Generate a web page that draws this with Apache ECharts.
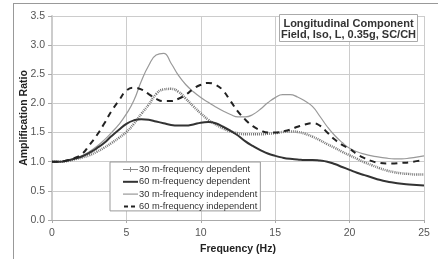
<!DOCTYPE html>
<html><head><meta charset="utf-8">
<script src="https://cdn.jsdelivr.net/npm/echarts@6/dist/echarts.min.js"></script>
<style>html,body{margin:0;padding:0;background:#fff}#c{width:438px;height:259px}</style>
</head><body><div id="c"></div>
<script>
const freq = [0,0.5,1,1.5,2,2.5,3,3.5,4,4.5,5,5.5,6,6.5,7,7.5,8,8.5,9,9.5,10,10.5,11,11.5,12,12.5,13,13.5,14,14.5,15,15.5,16,16.5,17,17.5,18,18.5,19,19.5,20,20.5,21,21.5,22,22.5,23,23.5,24,24.5,25];
const fd30 = [1.00,1.00,1.01,1.04,1.07,1.11,1.17,1.24,1.32,1.41,1.51,1.65,1.82,1.98,2.16,2.24,2.25,2.20,2.08,1.95,1.83,1.72,1.64,1.57,1.52,1.49,1.47,1.47,1.47,1.48,1.49,1.51,1.52,1.51,1.48,1.43,1.37,1.30,1.24,1.17,1.11,1.05,0.99,0.94,0.89,0.85,0.82,0.80,0.79,0.78,0.78];
const fd60 = [1.00,1.00,1.02,1.05,1.09,1.15,1.23,1.32,1.44,1.55,1.65,1.71,1.73,1.72,1.69,1.66,1.63,1.62,1.62,1.64,1.67,1.68,1.66,1.60,1.53,1.45,1.35,1.27,1.20,1.14,1.10,1.07,1.05,1.04,1.03,1.03,1.02,1.00,0.96,0.91,0.86,0.81,0.77,0.73,0.69,0.66,0.64,0.62,0.61,0.60,0.59];
const fi30 = [1.00,1.00,1.02,1.05,1.10,1.17,1.26,1.37,1.50,1.64,1.82,2.05,2.38,2.65,2.83,2.86,2.69,2.48,2.32,2.20,2.10,2.02,1.94,1.87,1.81,1.77,1.77,1.81,1.90,2.01,2.10,2.15,2.15,2.11,2.04,1.95,1.78,1.60,1.45,1.33,1.23,1.17,1.13,1.10,1.08,1.06,1.05,1.05,1.06,1.08,1.10];
const fi60 = [1.00,1.00,1.02,1.06,1.13,1.28,1.45,1.65,1.87,2.05,2.22,2.27,2.24,2.16,2.08,2.04,2.04,2.08,2.15,2.25,2.32,2.35,2.32,2.22,2.04,1.86,1.72,1.61,1.54,1.50,1.50,1.52,1.55,1.60,1.64,1.66,1.62,1.50,1.38,1.29,1.22,1.13,1.06,1.01,0.98,0.97,0.97,0.98,0.99,1.01,1.03];
const names = ['30 m-frequency dependent','60 m-frequency dependent','30 m-frequency independent','60 m-frequency independent'];
const xTicks = [0,5,10,15,20,25];
const yTicks = [0,0.5,1,1.5,2,2.5,3,3.5];
const boxLines = ['Longitudinal Component','Field, Iso, L, 0.35g, SC/CH'];

const pair = arr => freq.map((f,i)=>[f,arr[i]]);
const font = 'Liberation Sans, Arial, sans-serif';
const plus = 'path://M4,0h2v4h4v2h-4v4h-2v-4h-4v-2h4z';
const chart = echarts.init(document.getElementById('c'));
chart.setOption({
  animation:false,
  textStyle:{fontFamily:font},
  grid:{left:52,right:14,top:16,bottom:39,containLabel:false,outerBoundsMode:'none'},
  xAxis:{type:'value',min:xTicks[0],max:xTicks[xTicks.length-1],interval:5,
    name:'Frequency (Hz)',nameLocation:'middle',nameGap:24,nameMoveOverlap:false,
    nameTextStyle:{fontWeight:'bold',fontSize:10.5,color:'#222'},
    axisLine:{lineStyle:{color:'#aaa',width:1}},
    axisTick:{show:true,length:3,lineStyle:{color:'#aaa'}},
    axisLabel:{color:'#555',fontSize:10.5,margin:8},
    splitLine:{lineStyle:{color:'#ccc',width:1}}},
  yAxis:{type:'value',min:yTicks[0],max:yTicks[yTicks.length-1],interval:0.5,
    name:'Amplification Ratio',nameLocation:'middle',nameGap:22,nameMoveOverlap:false,
    nameTextStyle:{fontWeight:'bold',fontSize:10.5,color:'#222'},
    axisLine:{show:true,lineStyle:{color:'#ccc',width:2}},
    axisTick:{show:true,length:4,lineStyle:{color:'#aaa'}},
    axisLabel:{color:'#555',fontSize:10.5,margin:7,formatter:v=>v.toFixed(1)},
    splitLine:{lineStyle:{color:'#ccc',width:1}}},
  legend:{orient:'vertical',left:110,top:162,
    padding:[3,3,0,12],itemGap:3.3,itemWidth:15,itemHeight:6,
    borderColor:'#999',borderWidth:1,backgroundColor:'#fff',
    textStyle:{fontSize:9.3,color:'#333',padding:[0,0,0,-4]},
    itemStyle:{opacity:0},
    data:[
      {name:names[0],itemStyle:{opacity:1,color:'#888'},lineStyle:{color:'#888',width:1,type:'solid'}},
      {name:names[1],lineStyle:{color:'#333',width:2,type:'solid'}},
      {name:names[2],lineStyle:{color:'#999',width:1.2,type:'solid'}},
      {name:names[3],lineStyle:{color:'#222',width:2,type:[4,3],dashOffset:-1}}
    ]},
  series:[
    {name:names[0],type:'line',data:pair(fd30),smooth:0.5,showSymbol:false,symbol:plus,
      color:'#777',lineStyle:{color:'#777',width:2.5,type:[1,1]},z:3},
    {name:names[1],type:'line',data:pair(fd60),smooth:0.5,showSymbol:false,symbol:'none',
      color:'#333',lineStyle:{color:'#333',width:2},z:4},
    {name:names[2],type:'line',data:pair(fi30),smooth:0.5,showSymbol:false,symbol:'none',
      color:'#999',lineStyle:{color:'#999',width:1.2},z:2},
    {name:names[3],type:'line',data:pair(fi60),smooth:0.5,showSymbol:false,symbol:'none',
      color:'#222',lineStyle:{color:'#222',width:2,type:[6,5]},z:5}
  ],
  graphic:[
    {type:'line',shape:{x1:13,y1:3.5,x2:438,y2:3.5},style:{stroke:'#999',lineWidth:1},silent:true},
    {type:'line',shape:{x1:13.5,y1:3,x2:13.5,y2:259},style:{stroke:'#999',lineWidth:1},silent:true},
    {type:'rect',shape:{x:279.5,y:14.5,width:138,height:27},style:{fill:'#fff',stroke:'#aaa',lineWidth:1},z:50},
    {type:'text',x:348.5,y:23.5,z:51,style:{text:boxLines[0],font:'bold 11px '+font,fill:'#333',textAlign:'center',textVerticalAlign:'middle'}},
    {type:'text',x:348.5,y:34.5,z:51,style:{text:boxLines[1],font:'bold 11px '+font,fill:'#333',textAlign:'center',textVerticalAlign:'middle'}}
  ]
});
</script></body></html>
